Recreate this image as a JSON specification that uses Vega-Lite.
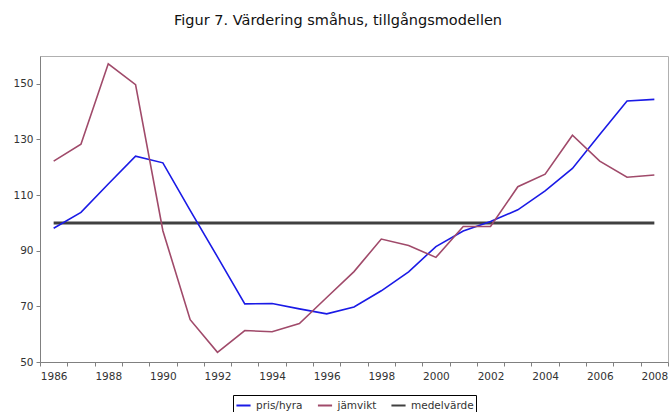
{
  "$schema": "https://vega.github.io/schema/vega-lite/v6.json",
  "width": 628,
  "height": 306,
  "autosize": {"type": "none"},
  "padding": {"left": 40, "top": 56, "right": 1, "bottom": 50},
  "background": "white",
  "title": {
    "text": "Figur 7. Värdering småhus, tillgångsmodellen",
    "font": "DejaVu Sans",
    "fontSize": 14.5,
    "fontWeight": "normal",
    "color": "#111111",
    "anchor": "middle",
    "offset": 28,
    "dx": -16
  },
  "config": {
    "view": {"stroke": "#b0b0b0", "strokeWidth": 1},
    "axis": {
      "labelFont": "DejaVu Sans",
      "labelFontSize": 10.5,
      "labelColor": "#333333",
      "domainColor": "#808080",
      "tickColor": "#808080",
      "tickSize": 4,
      "grid": false,
      "title": null
    }
  },
  "data": {
    "values": [
      {"year": 1986, "series": "pris/hyra", "value": 98.1},
      {"year": 1987, "series": "pris/hyra", "value": 103.8},
      {"year": 1988, "series": "pris/hyra", "value": 114},
      {"year": 1989, "series": "pris/hyra", "value": 124},
      {"year": 1990, "series": "pris/hyra", "value": 121.6},
      {"year": 1991, "series": "pris/hyra", "value": 104.5},
      {"year": 1992, "series": "pris/hyra", "value": 87.8},
      {"year": 1993, "series": "pris/hyra", "value": 70.9},
      {"year": 1994, "series": "pris/hyra", "value": 71},
      {"year": 1995, "series": "pris/hyra", "value": 69.1},
      {"year": 1996, "series": "pris/hyra", "value": 67.3},
      {"year": 1997, "series": "pris/hyra", "value": 69.8},
      {"year": 1998, "series": "pris/hyra", "value": 75.6},
      {"year": 1999, "series": "pris/hyra", "value": 82.4},
      {"year": 2000, "series": "pris/hyra", "value": 91.5},
      {"year": 2001, "series": "pris/hyra", "value": 97.1},
      {"year": 2002, "series": "pris/hyra", "value": 100.5},
      {"year": 2003, "series": "pris/hyra", "value": 104.7},
      {"year": 2004, "series": "pris/hyra", "value": 111.5},
      {"year": 2005, "series": "pris/hyra", "value": 119.6},
      {"year": 2006, "series": "pris/hyra", "value": 131.8},
      {"year": 2007, "series": "pris/hyra", "value": 143.8},
      {"year": 2008, "series": "pris/hyra", "value": 144.4},
      {"year": 1986, "series": "jämvikt", "value": 122.2},
      {"year": 1987, "series": "jämvikt", "value": 128.3},
      {"year": 1988, "series": "jämvikt", "value": 157.2},
      {"year": 1989, "series": "jämvikt", "value": 149.7},
      {"year": 1990, "series": "jämvikt", "value": 97.2},
      {"year": 1991, "series": "jämvikt", "value": 65.2},
      {"year": 1992, "series": "jämvikt", "value": 53.5},
      {"year": 1993, "series": "jämvikt", "value": 61.3},
      {"year": 1994, "series": "jämvikt", "value": 60.9},
      {"year": 1995, "series": "jämvikt", "value": 63.8},
      {"year": 1996, "series": "jämvikt", "value": 73.2},
      {"year": 1997, "series": "jämvikt", "value": 82.5},
      {"year": 1998, "series": "jämvikt", "value": 94.2},
      {"year": 1999, "series": "jämvikt", "value": 91.9},
      {"year": 2000, "series": "jämvikt", "value": 87.6},
      {"year": 2001, "series": "jämvikt", "value": 98.7},
      {"year": 2002, "series": "jämvikt", "value": 98.7},
      {"year": 2003, "series": "jämvikt", "value": 113},
      {"year": 2004, "series": "jämvikt", "value": 117.5},
      {"year": 2005, "series": "jämvikt", "value": 131.5},
      {"year": 2006, "series": "jämvikt", "value": 122.2},
      {"year": 2007, "series": "jämvikt", "value": 116.4},
      {"year": 2008, "series": "jämvikt", "value": 117.2},
      {"year": 1986, "series": "medelvärde", "value": 100},
      {"year": 1987, "series": "medelvärde", "value": 100},
      {"year": 1988, "series": "medelvärde", "value": 100},
      {"year": 1989, "series": "medelvärde", "value": 100},
      {"year": 1990, "series": "medelvärde", "value": 100},
      {"year": 1991, "series": "medelvärde", "value": 100},
      {"year": 1992, "series": "medelvärde", "value": 100},
      {"year": 1993, "series": "medelvärde", "value": 100},
      {"year": 1994, "series": "medelvärde", "value": 100},
      {"year": 1995, "series": "medelvärde", "value": 100},
      {"year": 1996, "series": "medelvärde", "value": 100},
      {"year": 1997, "series": "medelvärde", "value": 100},
      {"year": 1998, "series": "medelvärde", "value": 100},
      {"year": 1999, "series": "medelvärde", "value": 100},
      {"year": 2000, "series": "medelvärde", "value": 100},
      {"year": 2001, "series": "medelvärde", "value": 100},
      {"year": 2002, "series": "medelvärde", "value": 100},
      {"year": 2003, "series": "medelvärde", "value": 100},
      {"year": 2004, "series": "medelvärde", "value": 100},
      {"year": 2005, "series": "medelvärde", "value": 100},
      {"year": 2006, "series": "medelvärde", "value": 100},
      {"year": 2007, "series": "medelvärde", "value": 100},
      {"year": 2008, "series": "medelvärde", "value": 100}
    ]
  },
  "encoding": {
    "x": {
      "field": "year",
      "type": "quantitative",
      "scale": {"domain": [1985.5, 2008.5], "nice": false, "zero": false},
      "axis": {
        "values": [1985.5, 1986.5, 1987.5, 1988.5, 1989.5, 1990.5, 1991.5, 1992.5, 1993.5, 1994.5, 1995.5, 1996.5, 1997.5, 1998.5, 1999.5, 2000.5, 2001.5, 2002.5, 2003.5, 2004.5, 2005.5, 2006.5, 2007.5, 2008.5],
        "labelExpr": "datum.value % 2 == 1.5 ? format(datum.value + 0.5, 'd') : ''",
        "labelOffset": 13.65,
        "labelOverlap": false,
        "labelFlush": false,
        "labelBound": false,
        "labelPadding": 5
      }
    },
    "y": {
      "field": "value",
      "type": "quantitative",
      "scale": {"domain": [50, 160], "nice": false, "zero": false},
      "axis": {"values": [50, 70, 90, 110, 130, 150], "labelPadding": 3}
    },
    "color": {
      "field": "series",
      "type": "nominal",
      "scale": {
        "domain": ["pris/hyra", "jämvikt", "medelvärde"],
        "range": ["#1a1ae6", "#a04a6a", "#404040"]
      },
      "legend": {
        "title": null,
        "orient": "none",
        "direction": "horizontal",
        "legendX": 193,
        "legendY": 339,
        "symbolType": "stroke",
        "symbolSize": 200,
        "symbolStrokeWidth": 2,
        "labelFont": "DejaVu Sans",
        "labelFontSize": 10.5,
        "labelColor": "#333333",
        "columnPadding": 10.5,
        "labelOffset": 4,
        "strokeColor": "#000000",
        "padding": 2,
        "fillColor": "white"
      }
    },
    "order": {"field": "year"}
  },
  "layer": [
    {
      "transform": [{"filter": "datum.series == 'medelvärde'"}],
      "mark": {"type": "line", "strokeWidth": 3}
    },
    {
      "transform": [{"filter": "datum.series != 'medelvärde'"}],
      "mark": {"type": "line", "strokeWidth": 1.6}
    }
  ]
}
